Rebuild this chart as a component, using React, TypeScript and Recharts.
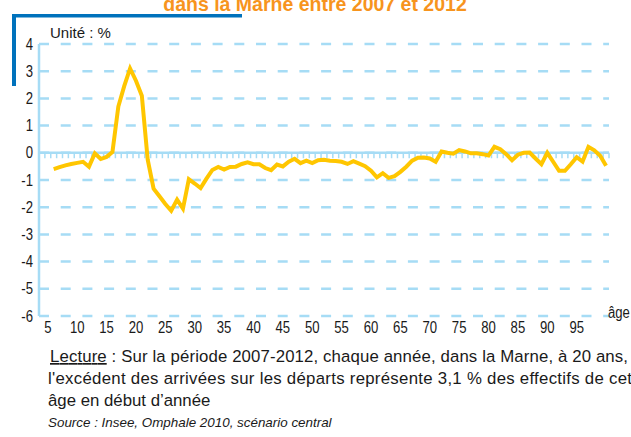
import React from 'react';
import { LineChart, Line, XAxis, YAxis, CartesianGrid, ReferenceLine } from 'recharts';

// solde migratoire par âge (%), âges 6 à 100
const values = [
  -0.6, -0.53, -0.46, -0.41, -0.37, -0.33, -0.51, -0.02, -0.23, -0.15,
  0.03, 1.7, 2.45, 3.1, 2.65, 2.1, -0.25, -1.32, -1.6, -1.88,
  -2.13, -1.72, -2.05, -0.97, -1.13, -1.3, -0.95, -0.63, -0.52, -0.62,
  -0.52, -0.51, -0.41, -0.35, -0.42, -0.42, -0.56, -0.64, -0.43, -0.5,
  -0.33, -0.22, -0.38, -0.29, -0.38, -0.27, -0.26, -0.29, -0.3, -0.33,
  -0.41, -0.31, -0.4, -0.49, -0.66, -0.9, -0.75, -0.92, -0.86, -0.7,
  -0.51, -0.29, -0.18, -0.17, -0.21, -0.33, 0.05, 0.0, -0.03, 0.1,
  0.05, -0.02, -0.02, -0.05, -0.1, 0.22, 0.13, -0.05, -0.27, -0.07,
  0.0, 0.01, -0.21, -0.42, 0.0, -0.33, -0.66, -0.66, -0.42, -0.16,
  -0.32, 0.22, 0.09, -0.11, -0.48,
];
const firstAge = 6;
const xTicks = [5, 10, 15, 20, 25, 30, 35, 40, 45, 50, 55, 60, 65, 70, 75, 80, 85, 90, 95];
const yTicks = [-6, -5, -4, -3, -2, -1, 0, 1, 2, 3, 4];
// graduations entre les catégories (âges 4 à 100)
const minorTicks = Array.from({ length: 97 }, (_, i) => 4.5 + i);

const data = values.map((v, i) => ({ age: firstAge + i, value: v }));

const BLUE_LIGHT = '#a6dcf5';
const TEXT = '#1a1a1a';
const sans = '"Liberation Sans", Arial, sans-serif';

// police étroite simulée (Helvetica Narrow de l'original)
const XTick = (props: any) => {
  const { x, y, payload } = props;
  return (
    <text
      transform={`translate(${x},${y}) scale(0.82,1)`}
      textAnchor="middle"
      dy="0.71em"
      fontFamily={sans}
      fontSize={16}
      fill={TEXT}
    >
      {payload.value}
    </text>
  );
};

const YTick = (props: any) => {
  const { x, y, payload } = props;
  return (
    <text
      transform={`translate(${x},${y}) scale(0.82,1)`}
      textAnchor="end"
      dy="0.355em"
      fontFamily={sans}
      fontSize={16}
      fill={TEXT}
    >
      {payload.value}
    </text>
  );
};

export default function App() {
  return (
    <div style={{ position: 'absolute', left: 0, top: 0, width: 631, height: 437, background: '#fff', overflow: 'hidden' }}>
      <LineChart width={631} height={437} data={data} margin={{ top: 44, right: 22, bottom: 91, left: 9 }}>
        <CartesianGrid vertical={false} stroke={BLUE_LIGHT} strokeWidth={2.5} strokeDasharray="10 11.7" />
        <XAxis
          type="number"
          dataKey="age"
          domain={[3.5, 100.5]}
          ticks={xTicks}
          interval={0}
          axisLine={false}
          tickLine={false}
          tickSize={0}
          tickMargin={6}
          height={30}
          tick={<XTick />}
        />
        <YAxis
          domain={[-6, 4]}
          ticks={yTicks}
          interval={0}
          width={30}
          axisLine={{ stroke: BLUE_LIGHT, strokeWidth: 2.5 }}
          tickLine={false}
          tickSize={0}
          tickMargin={6}
          tick={<YTick />}
        />
        <ReferenceLine y={0} stroke={BLUE_LIGHT} strokeWidth={2.5} />
        {minorTicks.map((t) => (
          <ReferenceLine
            key={t}
            segment={[{ x: t, y: 0 }, { x: t, y: -0.2 }]}
            stroke={BLUE_LIGHT}
            strokeWidth={1.5}
          />
        ))}
        <Line
          type="linear"
          dataKey="value"
          stroke="#ffc600"
          strokeWidth={4}
          dot={false}
          activeDot={false}
          isAnimationActive={false}
        />
      </LineChart>

      <svg width={631} height={437} style={{ position: 'absolute', left: 0, top: 0, pointerEvents: 'none' }}>
        <text x={315} y={11} textAnchor="middle" fontFamily={sans} fontWeight="bold" fontSize={19.5} fill="#f7941d">
          dans la Marne entre 2007 et 2012
        </text>
        <rect x={12} y={14} width={230} height={3.5} fill="#0072bc" />
        <rect x={12} y={14} width={4} height={72} fill="#0072bc" />
        <text x={50} y={38} fontFamily={sans} fontSize={15} fill={TEXT}>Unité : %</text>
        <text transform="translate(608,318) scale(0.82,1)" fontFamily={sans} fontSize={16} fill={TEXT}>âge</text>
        <text x={50} y={362} fontFamily={sans} fontSize={16.8} fill={TEXT} textLength={578}>
          <tspan textDecoration="underline">Lecture</tspan> : Sur la période 2007-2012, chaque année, dans la Marne, à 20 ans,
        </text>
        <text x={48} y={384} fontFamily={sans} fontSize={16.8} fill={TEXT} textLength={584}>
          l'excédent des arrivées sur les départs représente 3,1 % des effectifs de cet
        </text>
        <text x={48} y={406} fontFamily={sans} fontSize={16.8} fill={TEXT}>
          âge en début d’année
        </text>
        <text x={48} y={427} fontFamily={sans} fontStyle="italic" fontSize={13.4} fill={TEXT}>
          Source : Insee, Omphale 2010, scénario central
        </text>
      </svg>
    </div>
  );
}
